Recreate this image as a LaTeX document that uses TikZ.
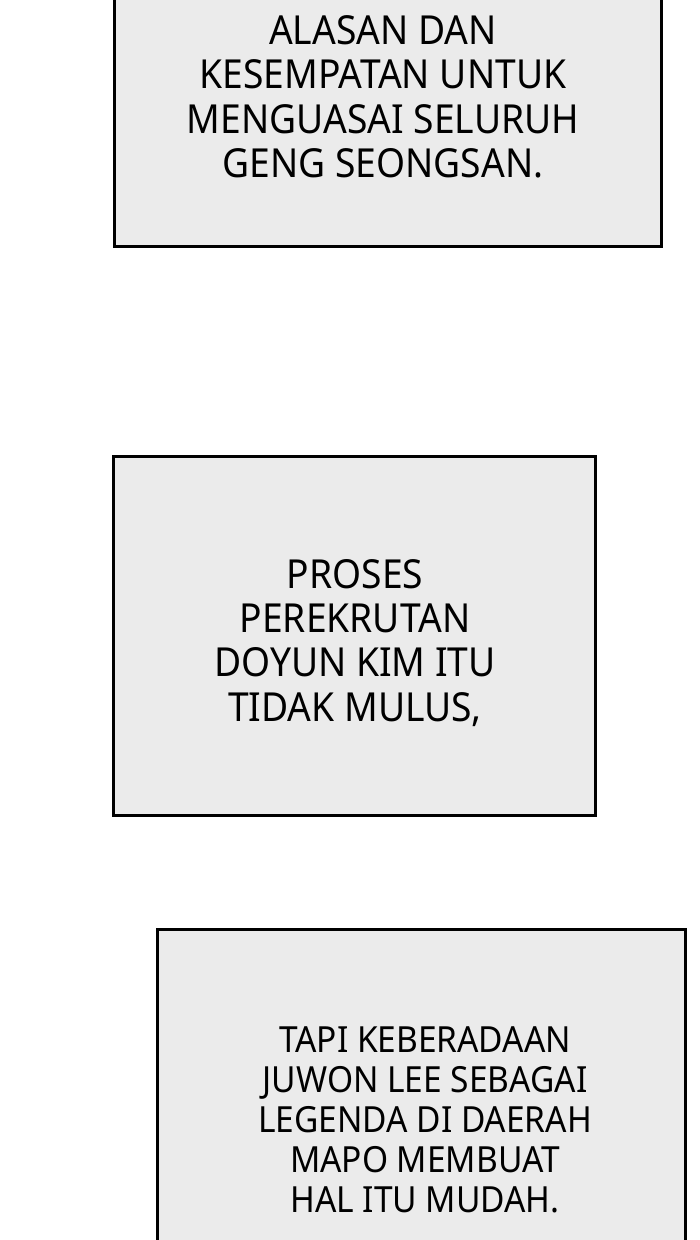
\documentclass[tikz,border=0pt]{standalone}
\usepackage{fontspec}
\setmainfont{Noto Sans}[FakeStretch=0.93]
\definecolor{panelfill}{HTML}{EBEBEB}
\tikzset{
  panel/.style={draw=black, line width=3pt, fill=panelfill},
  caption/.style={align=center, inner sep=0pt, font=\fontsize{40}{44.3}\selectfont},
  captionsmall/.style={align=center, inner sep=0pt, font=\fontsize{36}{40}\selectfont}
}
\begin{document}
\begin{tikzpicture}[x=1pt,y=-1pt]
\clip (0,0) rectangle (700,1240);
\fill[white] (0,0) rectangle (700,1240);
\draw[panel] (114,-20) rectangle (661.5,246.5);
\draw[panel] (113.5,456.5) rectangle (595,815);
\draw[panel] (157,929.5) rectangle (685,1260);
\node[caption, anchor=base] (t1) at (383,177.5) {ALASAN DAN\\KESEMPATAN UNTUK\\MENGUASAI SELURUH\\GENG SEONGSAN.};
\node[caption, anchor=base] (t2) at (355,721) {PROSES\\PEREKRUTAN\\DOYUN KIM ITU\\TIDAK MULUS,};
\node[captionsmall, anchor=base] (t3) at (425,1212) {TAPI KEBERADAAN\\JUWON LEE SEBAGAI\\LEGENDA DI DAERAH\\MAPO MEMBUAT\\HAL ITU MUDAH.};
\end{tikzpicture}
\end{document}
